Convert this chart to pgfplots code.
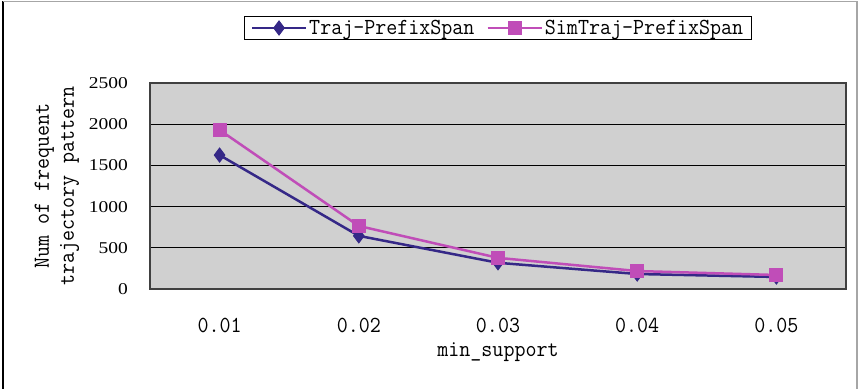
\documentclass[border=0pt]{standalone}
\usepackage{fontspec}
\usepackage{pgfplots}
\pgfplotsset{compat=1.18}
\setmainfont{Liberation Serif}
\newfontfamily\lblfont[FakeStretch=0.93]{Latin Modern Mono}
\newfontfamily\numfont[FakeStretch=1.18]{Liberation Serif}

\definecolor{trajcol}{RGB}{53,40,135}
\definecolor{simcol}{RGB}{192,77,184}
\definecolor{plotbg}{RGB}{208,208,208}

\pgfplotstableread{
x traj sim
1 1625 1930
2 645 765
3 318 378
4 182 218
5 146 170
}\supportdata

\begin{document}
\begin{tikzpicture}
% page area, measured from the lower left corner of the plot area
\path[use as bounding box] (-150bp,-100bp) rectangle (717bp,289bp);

\begin{axis}[
  at={(0,0)}, anchor=south west,
  scale only axis, width=696bp, height=206bp,
  axis background/.style={fill=plotbg},
  xmin=0.5, xmax=5.5, ymin=0, ymax=2500,
  xtick={1,2,3,4,5},
  xticklabels={0.01,0.02,0.03,0.04,0.05},
  minor xtick={1.5,2.5,3.5,4.5},
  ytick={0,500,...,2500},
  xtick style={draw=none},
  major tick length=6bp, minor tick length=6bp,
  tick align=inside,
  ymajorgrids, grid style={black, line width=0.8bp},
  axis line style={black!75, line width=1.2bp},
  every tick/.style={black, line width=0.8bp},
  xticklabel style={font=\fontsize{23bp}{26bp}\lblfont, anchor=center, yshift=-36bp},
  yticklabel style={font=\fontsize{16.5bp}{20bp}\numfont, anchor=east, inner sep=0pt, xshift=-22bp},
  /pgf/number format/assume math mode=true,
  /pgf/number format/1000 sep={},
  xlabel={min\_support},
  ylabel={Num of frequent\\trajectory pattern},
  every axis x label/.style={at={(rel axis cs:0.5,-0.306)}, anchor=center, font=\fontsize{23bp}{26bp}\lblfont},
  every axis y label/.style={at={(rel axis cs:-0.1336,0.5)}, rotate=90, anchor=center, align=center, font=\fontsize{23bp}{25bp}\lblfont},
  legend columns=2,
  legend style={at={(0.5,1.267)}, anchor=center, draw=black, line width=0.8bp,
    font=\fontsize{23bp}{26bp}\lblfont, inner xsep=6bp, inner ysep=1.5bp,
    /tikz/every even column/.append style={column sep=10bp}},
  legend image code/.code={
    \draw[#1, mark repeat=2, mark phase=2] plot coordinates {(0bp,0bp) (27bp,0bp) (54bp,0bp)};
  },
]
\addplot[trajcol, line width=2.5bp, mark=diamond*, mark size=7bp, mark options={solid, fill=trajcol, line width=1bp}]
  table[x=x, y=traj] {\supportdata};
\addlegendentry{Traj-PrefixSpan}
\addplot[simcol, line width=2.5bp, mark=square*, mark size=6.5bp, mark options={solid, fill=simcol, line width=1bp}]
  table[x=x, y=sim] {\supportdata};
\addlegendentry{SimTraj-PrefixSpan}
\end{axis}

% outer frame of the page
\draw[black,line width=1.5bp] (-147bp,-100bp) -- (-147bp,287.5bp);
\draw[gray!70,line width=1.5bp] (-147bp,287.5bp) -- (707bp,287.5bp) -- (707bp,-100bp);
\end{tikzpicture}
\end{document}
